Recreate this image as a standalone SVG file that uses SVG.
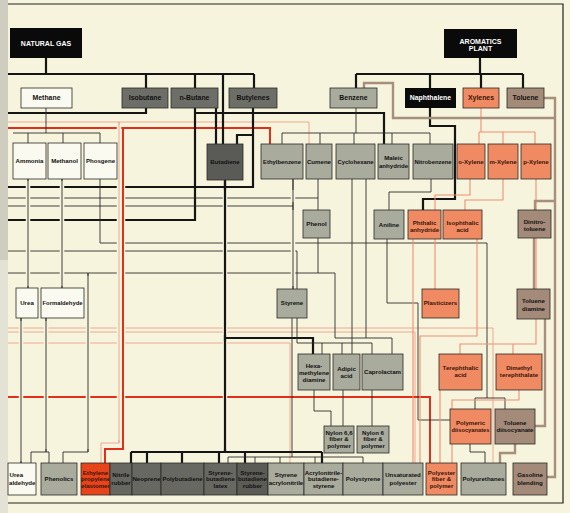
<svg xmlns="http://www.w3.org/2000/svg" width="570" height="513" viewBox="0 0 570 513">
<style>
.n{stroke:#2a2a26;stroke-width:0.8}
.wh{fill:#fbfaf0}.lg{fill:#a9ab9d}.mg{fill:#6e6e68}.dg{fill:#5a5a56}.bk{fill:#0a0a0a}.sa{fill:#f08a62}.rd{fill:#e8441c}.br{fill:#a48a78}.d2{fill:#686862}.d3{fill:#5c5c56}
text{font-family:"Liberation Sans",Arial,sans-serif;font-weight:bold;font-size:6.1px;text-anchor:middle;fill:#111}
.r1{font-size:6.9px}
.wt{fill:#fff;font-size:7px}
.w6{fill:#fff}
.st{fill:#3a1408}
path{fill:none}
.k{stroke:#151515;stroke-width:2.2}
.t{stroke:#2e2e2a;stroke-width:0.9}
.r{stroke:#e0301c;stroke-width:2}
.p{stroke:#f0a088;stroke-width:0.9}
.s{stroke:#f09070;stroke-width:1.1}
.b{stroke:#a88e7c;stroke-width:2.4}
.h{stroke:#f6f4dd;stroke-width:4.5}
.f{stroke:#222;stroke-width:1.2}
</style>
<rect width="570" height="513" fill="#f6f4dd"/>
<rect x="0" y="0" width="8" height="260" fill="#cfcdbf"/>
<rect x="0" y="260" width="8" height="253" fill="#e4e2d4"/>
<path class="f" d="M8,4H563V503H8"/>
<g id="connectors">
<path class="p" d="M8,122H309V144M119,122V443H101V463M8,343H290V463M8,328H493V463M8,332H415V463"/>
<path class="r" d="M8,128H270V144M123,128V449H105V463M8,397H430V463"/>
<path class="k" d="M46,58V74M8,74H254M146,74V88M195,74V88M254,74V88M223,74V144M216,108V144M146,108V113H8M195,108V220H8M195,113H384V144M253,108V187H8M253,135H237V144M480,58V74M356,74H523M356,74V88M430,74V88M481,74V88M523,74V88M430,108V126H455V199H423V210M225,180V452M131,452H322M131,452V463M147,452V463M182,452V463M219,452V463M245,452V463M322,452V463M225,338H313V354"/>
<path class="t" d="M46,108V133M13,133H100M28,133V143M63,133V143M100,133V143M356,108V133M282,133H430M282,133V144M320,133V144M354,133V144M392,133V144M430,133V144M28,179V288M62,179V288M21,318V463M46,318V452M31,452H49M31,452V463M49,452V463M318,238V273H8M88,273V452H63V463M318,273H335V338H392V354M318,179V210M8,198H318M293,179V289M8,206H293M100,179V243H487V398M475,398H505M475,398V409M505,398V409M8,251H297V343H372V354M322,343V354M342,343V354M352,179V354M366,179V338M431,179V192H389V210M387,239V303H418V420H450M314,390V411H331V426M343,390V426M372,390V426M292,318V457M228,457H363M228,457V463M255,457V463M280,457V463M315,457V463M363,457V463M470,444V452H485V463"/>
<path class="s" d="M481,108V132M479,132H535M479,132V144M503,132V144M535,132V144M470,179V195H435V210M503,179V200H465V210M536,179V344H460V354M513,344V354M435,239V289M413,239V463M477,239V336H420V463M440,390V463M519,390V400H452V463"/>
<path class="b" d="M544,98H555V477H547M555,118H393V83H364V88M555,201H535V210M534,238V289M545,319V426H535M515,444V453H500V463"/>
<path class="h" d="M123,131V446M119,125V440M28,181V286M62,181V286M225,190V335M225,341V449M293,190V202M293,210V286M88,276V449M46,321V449M21,321V461"/>
<path class="r" d="M123,128V449"/>
<path class="p" d="M119,122V443"/>
<path class="t" d="M28,179V288M62,179V288M88,273V452M46,318V452M21,318V463M293,179V289"/>
<path class="k" d="M225,180V452"/>
</g>
<g id="natural-gas"><rect class="bk" x="10" y="28" width="72" height="30"/><text class="wt" x="46" y="46">NATURAL GAS</text></g>
<g id="aromatics-plant"><rect class="bk" x="444" y="29" width="73" height="29"/><text class="wt" x="480.5" y="44">AROMATICS</text><text class="wt" x="480.5" y="51">PLANT</text></g>
<g id="methane"><rect class="n wh" x="21" y="88" width="51" height="20"/><text class="r1" x="46.5" y="100.4">Methane</text></g>
<g id="isobutane"><rect class="n mg" x="122" y="88" width="46" height="20"/><text class="r1" x="145" y="100.4">Isobutane</text></g>
<g id="n-butane"><rect class="n mg" x="171" y="88" width="47" height="20"/><text class="r1" x="194.5" y="100.4">n-Butane</text></g>
<g id="butylenes"><rect class="n mg" x="229" y="88" width="48" height="20"/><text class="r1" x="253" y="100.4">Butylenes</text></g>
<g id="benzene"><rect class="n lg" x="330" y="88" width="47" height="20"/><text class="r1" x="353.5" y="100.4">Benzene</text></g>
<g id="naphthalene"><rect class="bk" x="405" y="88" width="51" height="20"/><text class="w6 r1" x="430.5" y="100.4">Naphthalene</text></g>
<g id="xylenes"><rect class="n sa" x="463" y="88" width="36" height="20"/><text class="st r1" x="481" y="100.4">Xylenes</text></g>
<g id="toluene"><rect class="n br" x="507" y="88" width="37" height="20"/><text class="r1" x="525.5" y="100.4">Toluene</text></g>
<g id="ammonia"><rect class="n wh" x="13" y="143" width="33" height="36"/><text x="29.5" y="163.2">Ammonia</text></g>
<g id="methanol"><rect class="n wh" x="48" y="143" width="33" height="36"/><text x="64.5" y="163.2">Methanol</text></g>
<g id="phosgene"><rect class="n wh" x="84" y="143" width="33" height="36"/><text x="100.5" y="163.2">Phosgene</text></g>
<g id="butadiene"><rect class="n dg" x="207" y="144" width="36" height="36"/><text x="225" y="164.2">Butadiene</text></g>
<g id="ethylbenzene"><rect class="n lg" x="261" y="144" width="42" height="35"/><text x="282" y="163.7" textLength="38" lengthAdjust="spacingAndGlyphs">Ethylbenzene</text></g>
<g id="cumene"><rect class="n lg" x="306" y="144" width="26" height="35"/><text x="319" y="163.7">Cumene</text></g>
<g id="cyclohexane"><rect class="n lg" x="336" y="144" width="39" height="35"/><text x="355.5" y="163.7" textLength="36" lengthAdjust="spacingAndGlyphs">Cyclohexane</text></g>
<g id="maleic-anhydride"><rect class="n lg" x="378" y="144" width="31" height="35"/><text x="393.5" y="160.2">Maleic</text><text x="393.5" y="167.5">anhydride</text></g>
<g id="nitrobenzene"><rect class="n lg" x="413" y="144" width="40" height="35"/><text x="433" y="163.7" textLength="37" lengthAdjust="spacingAndGlyphs">Nitrobenzene</text></g>
<g id="o-xylene"><rect class="n sa" x="457" y="144" width="28" height="35"/><text class="st" x="471" y="163.7">o-Xylene</text></g>
<g id="m-xylene"><rect class="n sa" x="488" y="144" width="30" height="35"/><text class="st" x="503" y="163.7">m-Xylene</text></g>
<g id="p-xylene"><rect class="n sa" x="521" y="144" width="30" height="35"/><text class="st" x="536" y="163.7">p-Xylene</text></g>
<g id="phenol"><rect class="n lg" x="303" y="210" width="27" height="28"/><text x="316.5" y="226.2">Phenol</text></g>
<g id="aniline"><rect class="n lg" x="374" y="210" width="30" height="29"/><text x="389" y="226.7">Aniline</text></g>
<g id="phthalic-anhydride"><rect class="n sa" x="408" y="210" width="33" height="29"/><text class="st" x="424.5" y="224.5">Phthalic</text><text class="st" x="424.5" y="231.5">anhydride</text></g>
<g id="isophthalic-acid"><rect class="n sa" x="443" y="210" width="39" height="29"/><text class="st" x="462.5" y="224.5">Isophthalic</text><text class="st" x="462.5" y="231.5">acid</text></g>
<g id="dinitrotoluene"><rect class="n br" x="518" y="210" width="33" height="28"/><text x="534.5" y="224.2">Dinitro-</text><text x="534.5" y="231.2">toluene</text></g>
<g id="urea"><rect class="n wh" x="16" y="288" width="22" height="30"/><text x="27" y="305.2">Urea</text></g>
<g id="formaldehyde"><rect class="n wh" x="41" y="288" width="43" height="30"/><text x="62.5" y="305.2" textLength="40" lengthAdjust="spacingAndGlyphs">Formaldehyde</text></g>
<g id="styrene"><rect class="n lg" x="277" y="289" width="30" height="29"/><text x="292" y="305.2">Styrene</text></g>
<g id="plasticizers"><rect class="n sa" x="422" y="289" width="37" height="29"/><text class="st" x="440.5" y="305.2">Plasticizers</text></g>
<g id="toluene-diamine"><rect class="n br" x="517" y="289" width="33" height="30"/><text x="533.5" y="303.2">Toluene</text><text x="533.5" y="310.5">diamine</text></g>
<g id="hexamethylene-diamine"><rect class="n lg" x="298" y="354" width="32" height="36"/><text x="314" y="367.5">Hexa-</text><text x="314" y="374.8">methylene</text><text x="314" y="381.8">diamine</text></g>
<g id="adipic-acid"><rect class="n lg" x="333" y="354" width="27" height="36"/><text x="346.5" y="370.5">Adipic</text><text x="346.5" y="377.5">acid</text></g>
<g id="caprolactam"><rect class="n lg" x="362" y="354" width="41" height="36"/><text x="382.5" y="374.2">Caprolactam</text></g>
<g id="terephthalic-acid"><rect class="n sa" x="439" y="354" width="43" height="36"/><text class="st" x="460.5" y="370">Terephthalic</text><text class="st" x="460.5" y="377.2">acid</text></g>
<g id="dimethyl-terephthalate"><rect class="n sa" x="496" y="354" width="46" height="36"/><text class="st" x="519" y="370">Dimethyl</text><text class="st" x="519" y="377.2">terephthalate</text></g>
<g id="nylon-66"><rect class="n lg" x="324" y="426" width="30" height="27"/><text x="339" y="434.5">Nylon 6,6</text><text x="339" y="441.2">fiber &amp;</text><text x="339" y="448.2">polymer</text></g>
<g id="nylon-6"><rect class="n lg" x="357" y="426" width="32" height="27"/><text x="373" y="434.5">Nylon 6</text><text x="373" y="441.2">fiber &amp;</text><text x="373" y="448.2">polymer</text></g>
<g id="polymeric-diisocyanates"><rect class="n sa" x="450" y="409" width="41" height="35"/><text class="st" x="470.5" y="424.5">Polymeric</text><text class="st" x="470.5" y="431.5" textLength="38" lengthAdjust="spacingAndGlyphs">diisocyanates</text></g>
<g id="toluene-diisocyanate"><rect class="n br" x="495" y="409" width="40" height="35"/><text x="515" y="424.5">Toluene</text><text x="515" y="431.5" textLength="37" lengthAdjust="spacingAndGlyphs">diisocyanate</text></g>
<g id="urea-formaldehyde"><rect class="n wh" x="8" y="463" width="28" height="32"/><text x="9.5" y="476.9" style="text-anchor:start">Urea</text><text x="9" y="484.5" style="text-anchor:start">aldehyde</text></g>
<g id="phenolics"><rect class="n lg" x="41" y="463" width="36" height="32"/><text x="59" y="481.2">Phenolics</text></g>
<g id="ep-elastomer"><rect class="n rd" x="81" y="463" width="29" height="32"/><text class="st" x="95.5" y="474.5">Ethylene</text><text class="st" x="95.5" y="481.2">propylene</text><text class="st" x="95.5" y="488">elastomer</text></g>
<g id="nitrile-rubber"><rect class="n d2" x="110" y="463" width="22" height="32"/><text x="121" y="476.9">Nitrile</text><text x="121" y="484.5">rubber</text></g>
<g id="neoprene"><rect class="n d2" x="132" y="463" width="29" height="32"/><text x="146.5" y="481.2">Neoprene</text></g>
<g id="polybutadiene"><rect class="n d2" x="161" y="463" width="43" height="32"/><text x="182.5" y="481.2" textLength="40" lengthAdjust="spacingAndGlyphs">Polybutadiene</text></g>
<g id="sb-latex"><rect class="n d2" x="204" y="463" width="33" height="32"/><text x="220.5" y="474.5">Styrene-</text><text x="220.5" y="481.2">butadiene</text><text x="220.5" y="488">latex</text></g>
<g id="sb-rubber"><rect class="n d3" x="237" y="463" width="31" height="32"/><text x="252.5" y="474.5">Styrene-</text><text x="252.5" y="481.2">butadiene</text><text x="252.5" y="488">rubber</text></g>
<g id="styrene-acrylonitrile"><rect class="n lg" x="268" y="463" width="36" height="32"/><text x="286" y="476.9">Styrene</text><text x="286" y="484.5">acrylonitrile</text></g>
<g id="abs"><rect class="n lg" x="304" y="463" width="39" height="32"/><text x="323.5" y="474.5">Acrylonitrile-</text><text x="323.5" y="481.2">butadiene-</text><text x="323.5" y="488">styrene</text></g>
<g id="polystyrene"><rect class="n lg" x="343" y="463" width="40" height="32"/><text x="363" y="481.2">Polystyrene</text></g>
<g id="unsaturated-polyester"><rect class="n lg" x="383" y="463" width="40" height="32"/><text x="403" y="476.9">Unsaturated</text><text x="403" y="484.5">polyester</text></g>
<g id="polyester-fiber"><rect class="n sa" x="426" y="463" width="31" height="32"/><text class="st" x="441.5" y="474.5">Polyester</text><text class="st" x="441.5" y="481.2">fiber &amp;</text><text class="st" x="441.5" y="488">polymer</text></g>
<g id="polyurethanes"><rect class="n lg" x="461" y="463" width="45" height="32"/><text x="483.5" y="481.2">Polyurethanes</text></g>
<g id="gasoline-blending"><rect class="n br" x="513" y="463" width="34" height="32"/><text x="530" y="476.9">Gasoline</text><text x="530" y="484.5">blending</text></g>
</svg>
